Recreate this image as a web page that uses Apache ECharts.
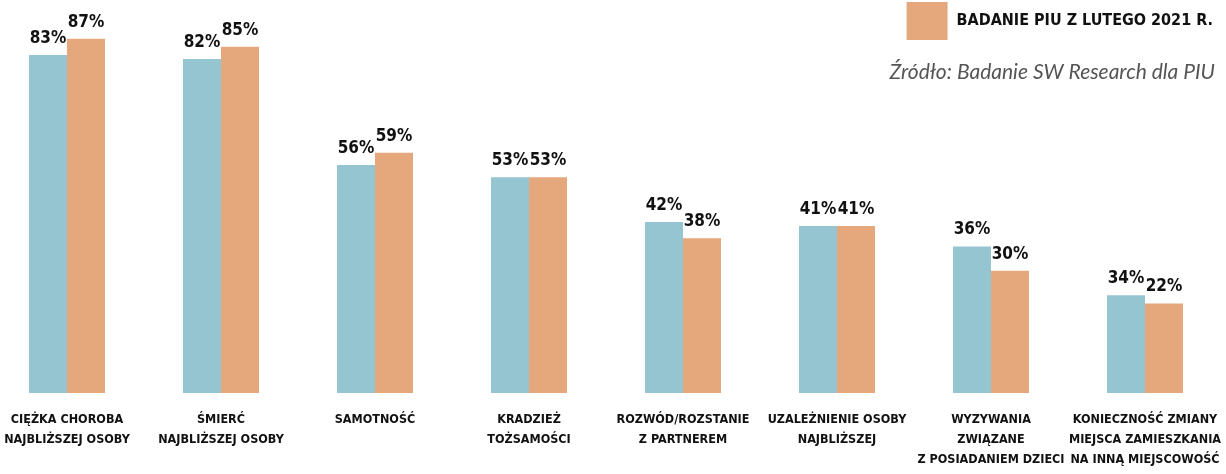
<!DOCTYPE html>
<html><head><meta charset="utf-8">
<script src="https://cdn.jsdelivr.net/npm/echarts@6/dist/echarts.min.js"></script>
<style>html,body{margin:0;padding:0;background:#fff}#c{width:1226px;height:474px}</style>
</head><body><div id="c"></div>
<script>
var categories = [
  "CIĘŻKA CHOROBA\nNAJBLIŻSZEJ OSOBY",
  "ŚMIERĆ\nNAJBLIŻSZEJ OSOBY",
  "SAMOTNOŚĆ",
  "KRADZIEŻ\nTOŻSAMOŚCI",
  "ROZWÓD/ROZSTANIE\nZ PARTNEREM",
  "UZALEŻNIENIE OSOBY\nNAJBLIŻSZEJ",
  "WYZYWANIA\nZWIĄZANE\nZ POSIADANIEM DZIECI",
  "KONIECZNOŚĆ ZMIANY\nMIEJSCA ZAMIESZKANIA\nNA INNĄ MIEJSCOWOŚĆ"
];
// bar heights as drawn in the picture
var seriesA = [83, 82, 56, 53, 42, 41, 36, 24];
// printed labels for series A (last one is printed as 34% in the source)
var labelsA = ["83%", "82%", "56%", "53%", "42%", "41%", "36%", "34%"];
var seriesB = [87, 85, 59, 53, 38, 41, 30, 22];
var labelsB = ["87%", "85%", "59%", "53%", "38%", "41%", "30%", "22%"];
var nameA = "Badanie PIU";
var nameB = "BADANIE PIU Z LUTEGO 2021 R.";

var cond = "'DejaVu Sans Condensed','Liberation Sans Narrow',sans-serif";
var chart = echarts.init(document.getElementById('c'), null, {renderer: 'canvas'});
var labelStyle = {
  show: true, position: 'top', distance: 8,
  fontFamily: cond, fontWeight: 'bold', fontSize: 17, color: '#111'
};
chart.setOption({
  animation: false,
  backgroundColor: '#fff',
  title: {
    text: 'Źródło: Badanie SW Research dla PIU',
    right: 6, top: 57,
    textStyle: {fontFamily: 'Lato', fontStyle: 'italic', fontWeight: 'normal', fontSize: 21, color: '#555'}
  },
  legend: {
    data: [nameB], right: 13, top: 2, padding: 0, icon: 'rect',
    itemWidth: 41, itemHeight: 38, itemGap: 10,
    textStyle: {fontFamily: cond, fontWeight: 'bold', fontSize: 16, color: '#111', padding: [0, 0, 0, 4]}
  },
  grid: {left: -10, right: 4, top: 0, bottom: 81, outerBoundsMode: 'none', containLabel: false},
  xAxis: {
    type: 'category', data: categories,
    axisLine: {show: false}, axisTick: {show: false},
    axisLabel: {interval: 0, margin: 17, lineHeight: 20, fontFamily: cond, fontWeight: 'bold', fontSize: 12.5, color: '#111', verticalAlign: 'top'}
  },
  yAxis: {type: 'value', min: 0, max: 96.5, show: false, splitLine: {show: false}},
  series: [
    {name: nameA, type: 'bar', data: seriesA, barWidth: 38, barGap: '0%',
     itemStyle: {color: '#95C5D0'},
     label: Object.assign({}, labelStyle, {formatter: function(p){return labelsA[p.dataIndex];}})},
    {name: nameB, type: 'bar', data: seriesB, barWidth: 38, barGap: '0%',
     itemStyle: {color: '#E5A77C'},
     label: Object.assign({}, labelStyle, {formatter: function(p){return labelsB[p.dataIndex];}})}
  ]
});
</script></body></html>
